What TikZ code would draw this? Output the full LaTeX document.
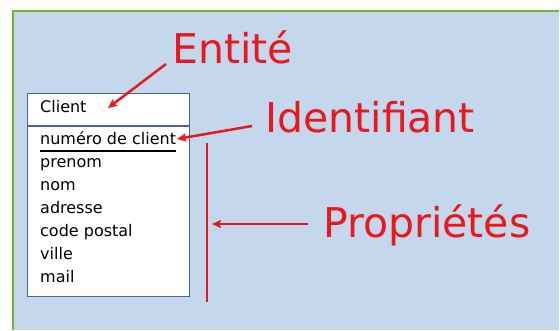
\documentclass[tikz,border=0pt]{standalone}
\usepackage{fontspec}
\setmainfont{DejaVu Sans}
\usetikzlibrary{arrows.meta}
\definecolor{panelblue}{HTML}{C5D7EC}
\definecolor{framegreen}{HTML}{76B82A}
\definecolor{notered}{HTML}{E8191D}
\definecolor{boxedge}{HTML}{4C62A6}
\tikzset{
  attr/.style={anchor=base west, inner sep=0pt, font=\fontsize{16}{19}\selectfont},
  note/.style={anchor=base west, inner sep=0pt, text=notered, font=\fontsize{41}{48}\selectfont},
  pointer/.style={draw=notered, line width=2.5pt, -{Stealth[length=9pt,width=8pt,inset=1.5pt]}},
  bar/.style={draw=notered, line width=2.5pt},
}
\begin{document}
\begin{tikzpicture}[x=1pt,y=-1pt]
  \useasboundingbox (0,0) rectangle (560,330);
  \fill[white] (0,0) rectangle (560,330);
  % panel
  \fill[panelblue] (13,11) rectangle (559,330);
  \draw[framegreen, line width=2.5pt] (13,330) -- (13,11) -- (559,11);
  % entity box
  \node (box) [draw=boxedge, fill=white, line width=1.4pt, minimum width=162pt, minimum height=203pt, inner sep=0pt, anchor=north west] at (27,93) {};
  \coordinate (divl) at (27,126);
  \coordinate (divr) at (189,126);
  \draw[boxedge, line width=1.4pt] (divl) -- (divr);
  \node (client) [attr] at (40,112) {Client};
  \node (num) [attr] at (40,144) {numéro de client};
  \coordinate (ul) at (40,151);
  \coordinate (ur) at (176,151);
  \draw[black, line width=1.2pt] (ul) -- (ur);
  \node (prenom) [attr] at (40,167) {prenom};
  \node (nom) [attr] at (40,190) {nom};
  \node (adresse) [attr] at (40,213) {adresse};
  \node (cp) [attr] at (40,236) {code postal};
  \node (ville) [attr] at (40,259) {ville};
  \node (mail) [attr] at (40,282) {mail};
  % annotations
  \node (entite) [note] at (172,63) {Entité};
  \node (ident) [note] at (265,132) {Identifiant};
  \node (props) [note] at (323,237) {Propriétés};
  \coordinate (e0) at (166,64);
  \coordinate (e1) at (108,108);
  \draw[pointer] (e0) -- (e1);
  \coordinate (i0) at (252,126);
  \coordinate (i1) at (177,139);
  \draw[pointer] (i0) -- (i1);
  \coordinate (p0) at (308,224);
  \coordinate (p1) at (212,224);
  \draw[pointer] (p0) -- (p1);
  \coordinate (b0) at (207,143);
  \coordinate (b1) at (207,302);
  \draw[bar] (b0) -- (b1);
\end{tikzpicture}
\end{document}
